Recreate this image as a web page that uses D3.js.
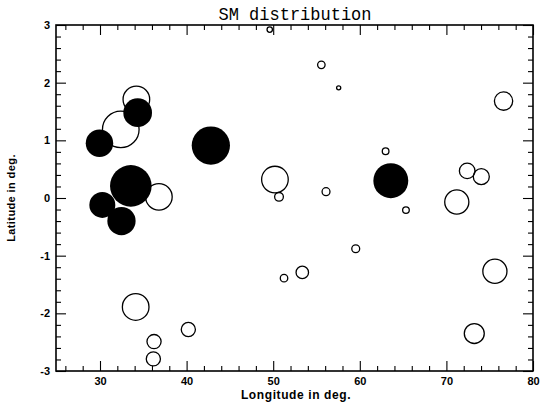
<!DOCTYPE html>
<html><head><meta charset="utf-8">
<script src="https://cdn.jsdelivr.net/npm/d3@7"></script>
<style>
html,body{margin:0;padding:0;background:#fff;}
svg{display:block;}
</style></head>
<body>
<svg id="chart" width="541" height="403"></svg>
<script>
// ---- data ----
const title = "SM distribution";
const xTitle = "Longitude in deg.";
const yTitle = "Latitude in deg.";
const xMajorTicks = [30, 40, 50, 60, 70, 80];
const yMajorTicks = [-3, -2, -1, 0, 1, 2, 3];
// longitude, latitude, amplitude (arbitrary units)
const filledLon = [34.35, 29.94, 42.8, 33.56, 30.27, 32.48, 63.58];
const filledLat = [1.48, 0.95, 0.91, 0.21, -0.12, -0.40, 0.30];
const filledAmp = [6.9, 6.6, 9.2, 10.0, 6.25, 6.8, 8.4];
const openLon = [34.2, 32.4, 36.8, 49.6, 55.56, 57.56, 62.98, 50.2, 50.67, 56.1, 76.6, 72.4, 74.03, 71.2, 65.33, 34.12, 40.2, 36.24, 36.16, 59.53, 53.36, 51.25, 75.6, 73.22];
const openLat = [1.71, 1.19, 0.02, 2.92, 2.31, 1.91, 0.81, 0.32, 0.02, 0.11, 1.68, 0.47, 0.37, -0.07, -0.21, -1.89, -2.28, -2.49, -2.79, -0.88, -1.29, -1.39, -1.27, -2.35];
const openAmp = [6.4, 8.8, 6.4, 1.3, 1.8, 1.0, 1.6, 6.4, 2.1, 1.9, 4.4, 3.75, 3.85, 5.8, 1.6, 6.4, 3.4, 3.4, 3.4, 1.9, 3.0, 1.8, 5.8, 4.8];

// ---- layout ----
const svg = d3.select("#chart");
const L = 56, R = 533, T = 25, B = 371;
const x = d3.scaleLinear().domain([25, 80]).range([L + 0.7, R]);
const y = d3.scaleLinear().domain([-3, 3]).range([B, T]);
const r = d3.scaleLinear().domain([0, 10]).range([0, 20.8]);

const xMinor = d3.range(26, 80, 2).filter(v => v % 10 !== 0);
const yMinor = d3.range(-30, 31, 2).filter(v => v % 10 !== 0).map(v => v / 10);

const fontTick = "'Liberation Sans', Arial, sans-serif";

function styleAxis(g) {
  g.select(".domain").remove();
  g.selectAll(".tick line").attr("stroke", "#000").attr("stroke-width", 1.1);
  g.selectAll("text").attr("font-family", fontTick).attr("font-weight", "bold")
    .attr("font-size", 11).attr("fill", "#000");
}

// bottom
svg.append("g").attr("transform", `translate(0,${B})`)
  .call(d3.axisBottom(x).tickValues(xMajorTicks).tickSize(-10).tickSizeOuter(0).tickPadding(6).tickFormat(d3.format("d")))
  .call(styleAxis);
svg.append("g").attr("transform", `translate(0,${B})`)
  .call(d3.axisBottom(x).tickValues(xMinor).tickSize(-5).tickSizeOuter(0).tickFormat(""))
  .call(styleAxis);
// top
svg.append("g").attr("transform", `translate(0,${T})`)
  .call(d3.axisTop(x).tickValues(xMajorTicks).tickSize(-10).tickSizeOuter(0).tickFormat(""))
  .call(styleAxis);
svg.append("g").attr("transform", `translate(0,${T})`)
  .call(d3.axisTop(x).tickValues(xMinor).tickSize(-5).tickSizeOuter(0).tickFormat(""))
  .call(styleAxis);
// left
svg.append("g").attr("transform", `translate(${L},0)`)
  .call(d3.axisLeft(y).tickValues(yMajorTicks).tickSize(-10).tickSizeOuter(0).tickPadding(6).tickFormat(d => d < 0 ? "-" + Math.abs(d) : d))
  .call(styleAxis);
svg.append("g").attr("transform", `translate(${L},0)`)
  .call(d3.axisLeft(y).tickValues(yMinor).tickSize(-5).tickSizeOuter(0).tickFormat(""))
  .call(styleAxis);
// right
svg.append("g").attr("transform", `translate(${R},0)`)
  .call(d3.axisRight(y).tickValues(yMajorTicks).tickSize(-10).tickSizeOuter(0).tickFormat(""))
  .call(styleAxis);
svg.append("g").attr("transform", `translate(${R},0)`)
  .call(d3.axisRight(y).tickValues(yMinor).tickSize(-5).tickSizeOuter(0).tickFormat(""))
  .call(styleAxis);

// frame
svg.append("rect").attr("x", L).attr("y", T).attr("width", R - L).attr("height", B - T)
  .attr("fill", "none").attr("stroke", "#000").attr("stroke-width", 1.6);

// points
const openData = openLon.map((v, i) => ({lon: v, lat: openLat[i], amp: openAmp[i]}));
const filledData = filledLon.map((v, i) => ({lon: v, lat: filledLat[i], amp: filledAmp[i]}));

svg.append("g").selectAll("circle").data(openData).join("circle")
  .attr("cx", d => x(d.lon)).attr("cy", d => y(d.lat)).attr("r", d => r(d.amp))
  .attr("fill", "none").attr("stroke", "#000").attr("stroke-width", 1.3);
svg.append("g").selectAll("circle").data(filledData).join("circle")
  .attr("cx", d => x(d.lon)).attr("cy", d => y(d.lat)).attr("r", d => r(d.amp))
  .attr("fill", "#000").attr("stroke", "none");

// titles
svg.append("text").attr("x", (L + R) / 2 + 0.5).attr("y", 20).attr("text-anchor", "middle")
  .attr("font-family", "'Liberation Mono', 'DejaVu Sans Mono', monospace").attr("font-size", 18)
  .attr("textLength", 153).attr("lengthAdjust", "spacingAndGlyphs")
  .attr("fill", "#000").text(title);
svg.append("text").attr("x", 296).attr("y", 399).attr("text-anchor", "middle")
  .attr("font-family", fontTick).attr("font-weight", "bold").attr("font-size", 12)
  .attr("letter-spacing", 0.6).attr("fill", "#000").text(xTitle);
svg.append("text").attr("transform", `translate(15,${(T + B) / 2}) rotate(-90)`).attr("text-anchor", "middle")
  .attr("font-family", fontTick).attr("font-weight", "bold").attr("font-size", 11)
  .attr("letter-spacing", 0.4).attr("fill", "#000").text(yTitle);
</script>
</body></html>
